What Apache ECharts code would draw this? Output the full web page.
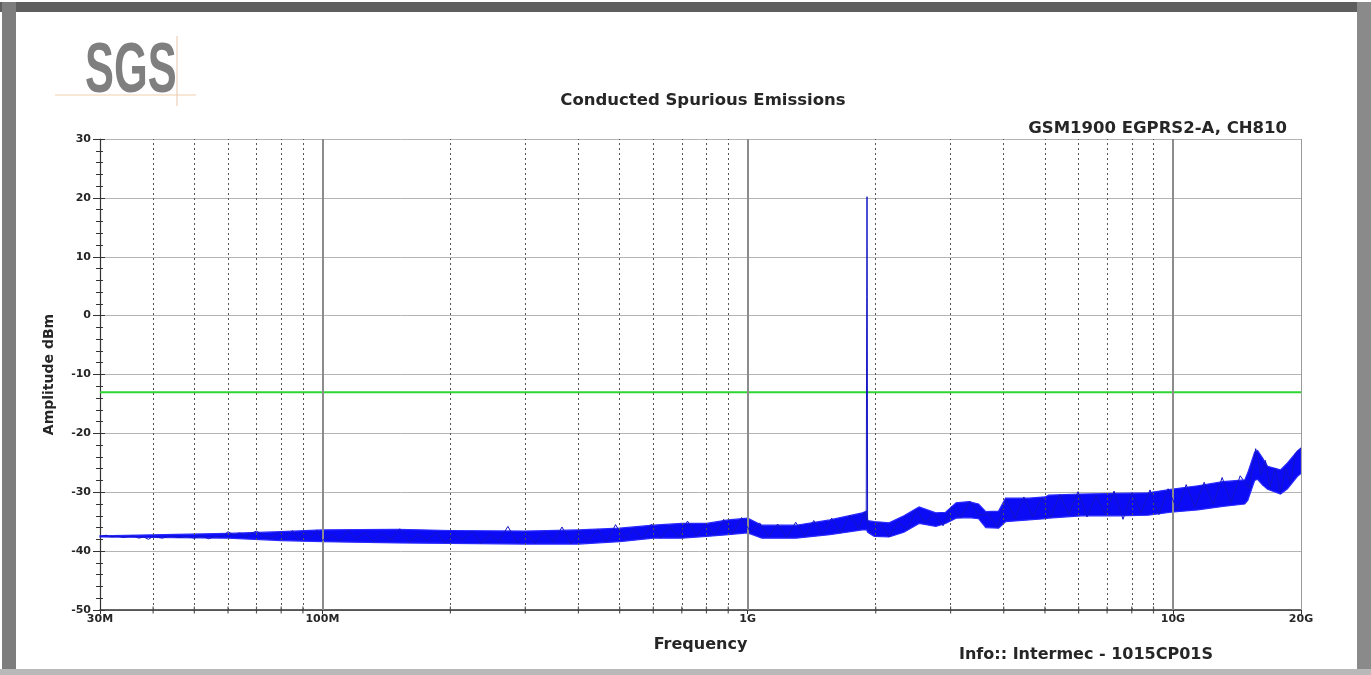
<!DOCTYPE html>
<html>
<head>
<meta charset="utf-8">
<title>Conducted Spurious Emissions</title>
<script src="https://cdn.jsdelivr.net/npm/echarts@6/dist/echarts.min.js"></script>
<style>
  html, body { margin: 0; padding: 0; background: #ffffff; }
  #chart { width: 1371px; height: 675px; }
</style>
</head>
<body>
<div id="chart"></div>
<script>
// ---- Axis ticks (frequency in MHz, amplitude in dBm) ----
const xTickValues = [30, 100, 1000, 10000, 20000];
const xTickText = ['30M', '100M', '1G', '10G', '20G'];
const xMinorFreq = [40, 50, 60, 70, 80, 90, 200, 300, 400, 500, 600, 700, 800, 900,
  2000, 3000, 4000, 5000, 6000, 7000, 8000, 9000];
const xDecadeFreq = [100, 1000, 10000];

// ---- Limit line ----
const limitFreq = [30, 20000];
const limitLevel = [-13, -13];

// ---- Trace: low band (30 MHz - 100 MHz) ----
const lowFreq = [30, 31, 32, 33, 34, 35, 36, 37, 38, 39, 40, 42, 44, 46, 48, 50, 52, 54, 56, 58,
  60, 62, 64, 66, 68, 70, 73, 76, 79, 82, 85, 88, 91, 94, 97, 100];
const lowLevel = [-37.5, -37.3, -37.6, -37.4, -37.7, -37.5, -37.4, -37.8, -37.6, -38.0, -37.5, -37.8,
  -37.4, -37.7, -37.5, -37.8, -37.4, -37.9, -37.5, -37.6, -36.7, -37.3, -36.9, -37.6, -37.0, -36.6,
  -37.4, -37.8, -36.8, -37.9, -36.5, -38.1, -36.9, -37.7, -36.4, -38.2];

// ---- Trace: mid band (100 MHz - 1.9 GHz) ----
const midFreq = [105, 110, 115, 120, 126, 132, 138, 145, 152, 160, 168, 176, 185, 194, 204, 214,
  225, 236, 248, 260, 273, 287, 301, 316, 332, 349, 366, 384, 403, 423, 444, 466, 489, 513, 539,
  566, 594, 624, 655, 688, 722, 758, 796, 836, 878, 922, 968, 1016, 1067, 1120, 1176, 1235, 1297,
  1362, 1430, 1501, 1576, 1655, 1738, 1825, 1880];
const midLevel = [-37.2, -38.3, -36.4, -37.9, -36.9, -38.4, -37.0, -38.1, -36.2, -38.5, -37.1, -38.2,
  -36.8, -38.6, -37.3, -38.0, -36.6, -38.7, -37.2, -38.3, -35.8, -38.5, -37.0, -38.7, -36.7, -38.4,
  -35.9, -38.8, -36.6, -38.2, -36.3, -38.5, -35.5, -38.0, -36.2, -37.9, -35.4, -37.8, -35.9, -37.6,
  -34.9, -37.4, -35.3, -37.3, -34.6, -37.0, -34.3, -36.8, -35.2, -37.6, -35.4, -37.7, -35.1, -37.5,
  -34.8, -37.2, -34.4, -36.9, -33.9, -36.2, -33.4];

// ---- Trace: carrier (GSM1900, CH810) ----
const carrierFreq = [1900, 1905, 1908, 1911, 1914];
const carrierLevel = [-34.8, 3.2, 20.2, 3.0, -35.5];

// ---- Trace: high band (1.95 GHz - 20 GHz) ----
const highFreq = [1950, 2050, 2150, 2260, 2370, 2490, 2610, 2740, 2880, 3020, 3170, 3330, 3500,
  3670, 3860, 4050, 4250, 4460, 4680, 4920, 5160, 5420, 5690, 5980, 6280, 6590, 6920, 7270, 7630,
  8010, 8410, 8830, 9270, 9740, 10230, 10740, 11270, 11840, 12430, 13050, 13700, 14390, 15110,
  15650, 16100, 16500, 16900, 17400, 17900, 18400, 18900, 19400, 20000];
const highLevel = [-36.9, -35.1, -37.6, -35.0, -36.4, -33.0, -35.2, -33.6, -35.7, -32.4, -34.3,
  -31.5, -33.9, -33.6, -35.9, -31.2, -34.5, -30.8, -34.2, -30.9, -34.3, -30.4, -33.8, -29.9, -34.2,
  -30.6, -33.7, -29.8, -34.6, -30.1, -33.5, -29.6, -33.8, -29.4, -33.0, -28.7, -32.6, -28.3, -32.1,
  -27.5, -31.7, -27.2, -29.4, -22.6, -27.0, -24.6, -29.2, -25.9, -30.2, -25.8, -28.6, -23.4, -22.5];

// ---- Noise envelope of the trace (min / max hold per frequency) ----
const bandFreq = [30, 60, 80, 100, 150, 200, 300, 400, 500, 600, 700, 800, 900, 1000, 1080, 1300,
  1560, 1860, 1905, 1915, 1985, 2150, 2330, 2530, 2770, 2920, 3090, 3310, 3490, 3630, 3890, 4040,
  4580, 5010, 5100, 6090, 7430, 8740, 9890, 11440, 13100, 14750, 14990, 15560, 15810, 16250, 16690,
  17900, 18590, 19620, 20000];
const bandLow = [-37.6, -37.8, -38.2, -38.4, -38.6, -38.7, -38.8, -38.8, -38.4, -37.8, -37.8, -37.5,
  -37.2, -36.9, -37.8, -37.8, -37.2, -36.4, -36.4, -36.8, -37.5, -37.6, -36.8, -35.3, -35.8, -35.3,
  -34.4, -34.3, -34.5, -36.0, -36.1, -35.0, -34.7, -34.5, -34.4, -34.0, -34.0, -33.9, -33.4, -33.0,
  -32.4, -32.0, -31.4, -28.0, -27.8, -28.8, -29.5, -30.3, -29.4, -27.3, -26.8];
const bandHigh = [-37.4, -37.0, -36.7, -36.4, -36.3, -36.5, -36.6, -36.4, -36.1, -35.6, -35.3, -35.3,
  -34.7, -34.4, -35.6, -35.6, -34.7, -33.5, -33.2, -34.8, -35.0, -35.2, -34.0, -32.5, -33.5, -33.4,
  -31.8, -31.6, -32.0, -33.3, -33.2, -31.0, -31.0, -30.8, -30.5, -30.3, -30.2, -30.1, -29.5, -28.9,
  -28.2, -27.9, -26.7, -23.2, -22.9, -24.2, -25.6, -26.2, -25.0, -23.0, -22.5];

// ---- Rendering ----
const FONT = '"DejaVu Sans", Verdana, sans-serif';
const TEXT = '#262626';
const BLUE = '#0b0bf5';
const pairs = (xs, ys) => xs.map((x, i) => [x, ys[i]]);

const traceFreq = lowFreq.concat(midFreq, carrierFreq, highFreq);
const traceLevel = lowLevel.concat(midLevel, carrierLevel, highLevel);

function freqLabel(v) {
  let best = 0;
  xTickValues.forEach((t, i) => {
    if (Math.abs(Math.log10(t) - Math.log10(v)) < Math.abs(Math.log10(xTickValues[best]) - Math.log10(v))) best = i;
  });
  return xTickText[best];
}

// filled polygon between the min and max hold curves
function renderEnvelope(params, api) {
  if (params.dataIndex !== 0) return null;
  const upper = bandFreq.map((f, i) => api.coord([f, bandHigh[i]]));
  const lower = bandFreq.map((f, i) => api.coord([f, bandLow[i]])).reverse();
  return {
    type: 'polygon',
    shape: { points: upper.concat(lower) },
    style: { fill: BLUE, stroke: '#2a2aff', lineWidth: 1.2 }
  };
}

const chart = echarts.init(document.getElementById('chart'), null, { renderer: 'canvas' });

const option = {
  animation: false,
  backgroundColor: '#ffffff',
  grid: { left: 100, right: 70, top: 139, bottom: 65, containLabel: false },
  xAxis: {
    type: 'log',
    logBase: 10,
    min: 30,
    max: 20000,
    name: 'Frequency',
    nameLocation: 'middle',
    nameGap: 27,
    nameTextStyle: { fontFamily: FONT, fontWeight: 'bold', fontSize: 16, color: TEXT },
    axisLine: { show: true, onZero: false, lineStyle: { color: '#333333', width: 1.5 } },
    axisTick: { show: true, length: 4, lineStyle: { color: '#333333' } },
    minorTick: { show: false },
    splitLine: { show: false },
    axisLabel: {
      show: true, margin: 4, fontFamily: FONT, fontWeight: 'bold', fontSize: 11, color: TEXT,
      showMinLabel: true, showMaxLabel: true, hideOverlap: false,
      formatter: freqLabel
    }
  },
  yAxis: [{
    type: 'value',
    min: -50,
    max: 30,
    interval: 10,
    name: 'Amplitude dBm',
    nameLocation: 'middle',
    nameGap: 44,
    nameTextStyle: { fontFamily: FONT, fontWeight: 'bold', fontSize: 14, color: TEXT },
    axisLine: { show: true, onZero: false, lineStyle: { color: '#333333', width: 1.2 } },
    axisTick: { show: true, length: 7, lineStyle: { color: '#333333' } },
    minorTick: { show: true, splitNumber: 5, length: 4, lineStyle: { color: '#333333' } },
    splitLine: { show: true, lineStyle: { color: '#b4b4b4', width: 1 } },
    minorSplitLine: { show: false },
    axisLabel: { margin: 9, fontFamily: FONT, fontWeight: 'bold', fontSize: 11, color: TEXT }
  }, {
    type: 'value',
    min: -50,
    max: 30,
    interval: 10,
    position: 'left',
    offset: 0,
    axisLine: { show: false, onZero: false },
    axisTick: { show: true, inside: true, length: 5, lineStyle: { color: '#333333' } },
    minorTick: { show: true, splitNumber: 5, length: 3, lineStyle: { color: '#333333' } },
    splitLine: { show: false },
    axisLabel: { show: false }
  }],
  series: [
    {
      // decade lines, sub-decade dotted lines, right frame edge
      name: 'grid',
      type: 'line',
      data: [],
      z: 1,
      silent: true,
      markLine: {
        silent: true,
        symbol: ['none', 'none'],
        label: { show: false },
        animation: false,
        data: xMinorFreq.map(f => ({ xAxis: f, lineStyle: { color: '#555555', width: 1, type: [2, 3] } }))
          .concat(xDecadeFreq.map(f => ({ xAxis: f, lineStyle: { color: '#8c8c8c', width: 2, type: 'solid' } })))
          .concat([{ xAxis: 20000, lineStyle: { color: '#9a9a9a', width: 1, type: 'solid' } }])
      }
    },
    {
      name: 'minor ticks',
      type: 'scatter',
      data: pairs(xMinorFreq, xMinorFreq.map(() => -50)),
      symbol: 'rect',
      symbolSize: [1.2, 7],
      itemStyle: { color: '#333333' },
      clip: false,
      silent: true,
      z: 2
    },
    {
      name: 'Limit',
      type: 'line',
      data: pairs(limitFreq, limitLevel),
      symbol: 'none',
      lineStyle: { color: '#2fd62f', width: 2 },
      silent: true,
      z: 3
    },
    {
      name: 'envelope',
      type: 'custom',
      data: bandFreq.map((f, i) => [f, bandLow[i], bandHigh[i]]),
      encode: { x: 0, y: [1, 2] },
      renderItem: renderEnvelope,
      silent: true,
      z: 4
    },
    {
      name: 'Trace',
      type: 'line',
      data: pairs(traceFreq, traceLevel),
      symbol: 'none',
      lineStyle: { color: '#1414c8', width: 1 },
      silent: true,
      z: 5
    }
  ],
  graphic: [
    // window frame
    { type: 'rect', shape: { x: 0, y: 0, width: 1371, height: 675 }, style: { fill: '#ffffff' }, z: -10, silent: true },
    { type: 'rect', shape: { x: 0, y: 2, width: 1371, height: 10 }, style: { fill: '#5e5e5e' }, z: 10, silent: true },
    { type: 'rect', shape: { x: 2, y: 2, width: 14, height: 673 }, style: { fill: '#7d7d7d' }, z: 10, silent: true },
    { type: 'rect', shape: { x: 1357, y: 2, width: 14, height: 673 }, style: { fill: '#8a8a8a' }, z: 10, silent: true },
    { type: 'rect', shape: { x: 0, y: 669, width: 1371, height: 6 }, style: { fill: '#b9b9b9' }, z: 10, silent: true },
    // SGS logo
    { type: 'line', shape: { x1: 55, y1: 95, x2: 196, y2: 95 }, style: { stroke: '#f1cfae', lineWidth: 1 }, z: 10, silent: true },
    { type: 'line', shape: { x1: 177, y1: 36, x2: 177, y2: 106 }, style: { stroke: '#e9c7a8', lineWidth: 1 }, z: 10, silent: true },
    {
      type: 'text', x: 85, y: 108, scaleX: 0.62, z: 11, silent: true,
      style: { text: 'SGS', fill: '#7f7f7f', font: 'bold 70px "Liberation Sans", Arial, sans-serif', textAlign: 'left', textVerticalAlign: 'bottom' }
    },
    // title, configuration and info texts
    {
      type: 'text', x: 703, y: 101, z: 11, silent: true,
      style: { text: 'Conducted Spurious Emissions', fill: TEXT, font: 'bold 16.5px ' + FONT, textAlign: 'center', textVerticalAlign: 'middle' }
    },
    {
      type: 'text', x: 1287, y: 129, z: 11, silent: true,
      style: { text: 'GSM1900 EGPRS2-A, CH810', fill: TEXT, font: 'bold 16.5px ' + FONT, textAlign: 'right', textVerticalAlign: 'middle' }
    },
    {
      type: 'text', x: 959, y: 655, z: 11, silent: true,
      style: { text: 'Info:: Intermec - 1015CP01S', fill: TEXT, font: 'bold 16px ' + FONT, textAlign: 'left', textVerticalAlign: 'middle' }
    }
  ]
};

chart.setOption(option);
</script>
</body>
</html>
